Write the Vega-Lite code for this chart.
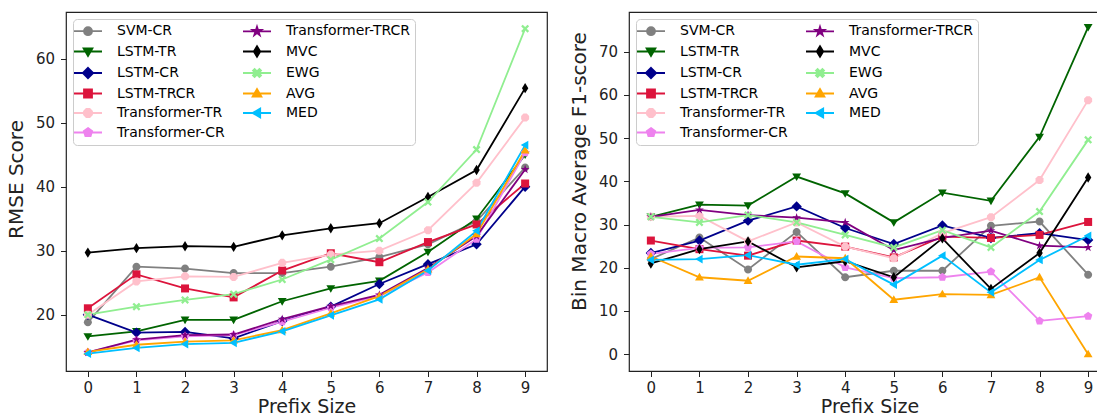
{
  "$schema": "https://vega.github.io/schema/vega-lite/v6.json",
  "padding": {"left": 5, "top": 11, "right": 0, "bottom": 0},
  "spacing": 20,
  "config": {
    "font": "DejaVu Sans",
    "view": {"stroke": "#222222", "strokeWidth": 1.2},
    "axis": {"domain": false, "grid": false, "tickSize": 5.5, "tickColor": "#222222", "tickWidth": 1, "labelFontSize": 15, "labelColor": "#222222", "titleFontSize": 20, "titleFontWeight": "normal", "titleColor": "#222222", "labelFont": "DejaVu Sans", "titleFont": "DejaVu Sans"},
    "legend": {"orient": "top-left", "offset": 7, "padding": 5, "columns": 2, "labelFontSize": 14, "labelFont": "DejaVu Sans", "labelColor": "#000000", "symbolSize": 64, "symbolOffset": 3, "labelOffset": 22, "rowPadding": 3.5, "columnPadding": 14, "fillColor": "rgba(255,255,255,0.8)", "strokeColor": "#cccccc", "cornerRadius": 4, "symbolStrokeWidth": 1.8, "labelLimit": 300}
  },
  "datasets": {
    "rmse": [
      {"prefix": 0, "SVM-CR": 18.8, "LSTM-TR": 16.6, "LSTM-CR": 20.0, "LSTM-TRCR": 21.0, "Transformer-TR": 20.0, "Transformer-CR": 14.1, "Transformer-TRCR": 14.1, "MVC": 29.7, "EWG": 20.0, "AVG": 14.2, "MED": 13.9},
      {"prefix": 1, "SVM-CR": 27.5, "LSTM-TR": 17.4, "LSTM-CR": 17.2, "LSTM-TRCR": 26.3, "Transformer-TR": 25.2, "Transformer-CR": 16.0, "Transformer-TRCR": 16.1, "MVC": 30.4, "EWG": 21.25, "AVG": 15.3, "MED": 14.8},
      {"prefix": 2, "SVM-CR": 27.2, "LSTM-TR": 19.2, "LSTM-CR": 17.3, "LSTM-TRCR": 24.1, "Transformer-TR": 26.0, "Transformer-CR": 16.6, "Transformer-TRCR": 16.8, "MVC": 30.7, "EWG": 22.3, "AVG": 15.8, "MED": 15.4},
      {"prefix": 3, "SVM-CR": 26.5, "LSTM-TR": 19.2, "LSTM-CR": 16.3, "LSTM-TRCR": 22.7, "Transformer-TR": 25.9, "Transformer-CR": 16.8, "Transformer-TRCR": 16.9, "MVC": 30.6, "EWG": 23.2, "AVG": 16.0, "MED": 15.6},
      {"prefix": 4, "SVM-CR": 26.5, "LSTM-TR": 22.1, "LSTM-CR": 19.0, "LSTM-TRCR": 26.9, "Transformer-TR": 28.1, "Transformer-CR": 18.9, "Transformer-TRCR": 19.3, "MVC": 32.4, "EWG": 25.5, "AVG": 17.6, "MED": 17.4},
      {"prefix": 5, "SVM-CR": 27.5, "LSTM-TR": 24.1, "LSTM-CR": 21.25, "LSTM-TRCR": 29.6, "Transformer-TR": 29.4, "Transformer-CR": 21.1, "Transformer-TRCR": 21.35, "MVC": 33.5, "EWG": 28.6, "AVG": 20.2, "MED": 19.9},
      {"prefix": 6, "SVM-CR": 29.0, "LSTM-TR": 25.3, "LSTM-CR": 24.8, "LSTM-TRCR": 28.2, "Transformer-TR": 30.0, "Transformer-CR": 22.9, "Transformer-TRCR": 23.1, "MVC": 34.3, "EWG": 31.9, "AVG": 22.9, "MED": 22.4},
      {"prefix": 7, "SVM-CR": 31.0, "LSTM-TR": 29.8, "LSTM-CR": 27.9, "LSTM-TRCR": 31.35, "Transformer-TR": 33.2, "Transformer-CR": 26.6, "Transformer-TRCR": 27.3, "MVC": 38.4, "EWG": 37.6, "AVG": 27.1, "MED": 26.9},
      {"prefix": 8, "SVM-CR": 34.6, "LSTM-TR": 35.0, "LSTM-CR": 31.0, "LSTM-TRCR": 34.1, "Transformer-TR": 40.6, "Transformer-CR": 31.8, "Transformer-TRCR": 32.3, "MVC": 42.6, "EWG": 45.8, "AVG": 32.6, "MED": 33.1},
      {"prefix": 9, "SVM-CR": 43.0, "LSTM-TR": 45.0, "LSTM-CR": 40.0, "LSTM-TRCR": 40.5, "Transformer-TR": 50.8, "Transformer-CR": 45.3, "Transformer-TRCR": 42.7, "MVC": 55.4, "EWG": 64.7, "AVG": 45.7, "MED": 46.5}
    ],
    "f1": [
      {"prefix": 0, "SVM-CR": 22.0, "LSTM-TR": 31.8, "LSTM-CR": 23.4, "LSTM-TRCR": 26.3, "Transformer-TR": 31.8, "Transformer-CR": 23.2, "Transformer-TRCR": 31.8, "MVC": 21.0, "EWG": 31.8, "AVG": 22.6, "MED": 21.8},
      {"prefix": 1, "SVM-CR": 27.0, "LSTM-TR": 34.6, "LSTM-CR": 26.3, "LSTM-TRCR": 24.3, "Transformer-TR": 32.0, "Transformer-CR": 24.6, "Transformer-TRCR": 33.4, "MVC": 24.3, "EWG": 30.5, "AVG": 17.8, "MED": 22.0},
      {"prefix": 2, "SVM-CR": 19.6, "LSTM-TR": 34.4, "LSTM-CR": 30.9, "LSTM-TRCR": 22.8, "Transformer-TR": 26.1, "Transformer-CR": 24.7, "Transformer-TRCR": 32.2, "MVC": 26.1, "EWG": 32.2, "AVG": 17.0, "MED": 22.9},
      {"prefix": 3, "SVM-CR": 28.3, "LSTM-TR": 41.1, "LSTM-CR": 34.2, "LSTM-TRCR": 26.3, "Transformer-TR": 30.5, "Transformer-CR": 26.1, "Transformer-TRCR": 31.6, "MVC": 20.1, "EWG": 30.5, "AVG": 22.6, "MED": 20.7},
      {"prefix": 4, "SVM-CR": 17.8, "LSTM-TR": 37.2, "LSTM-CR": 29.2, "LSTM-TRCR": 24.9, "Transformer-TR": 24.9, "Transformer-CR": 20.1, "Transformer-TRCR": 30.5, "MVC": 21.5, "EWG": 27.6, "AVG": 22.2, "MED": 22.0},
      {"prefix": 5, "SVM-CR": 19.3, "LSTM-TR": 30.5, "LSTM-CR": 25.5, "LSTM-TRCR": 22.4, "Transformer-TR": 22.2, "Transformer-CR": 17.6, "Transformer-TRCR": 24.1, "MVC": 17.8, "EWG": 24.7, "AVG": 12.6, "MED": 16.1},
      {"prefix": 6, "SVM-CR": 19.3, "LSTM-TR": 37.4, "LSTM-CR": 29.8, "LSTM-TRCR": 27.2, "Transformer-TR": 28.0, "Transformer-CR": 17.8, "Transformer-TRCR": 26.9, "MVC": 26.8, "EWG": 28.7, "AVG": 13.9, "MED": 22.8},
      {"prefix": 7, "SVM-CR": 29.7, "LSTM-TR": 35.5, "LSTM-CR": 26.9, "LSTM-TRCR": 26.9, "Transformer-TR": 31.7, "Transformer-CR": 19.1, "Transformer-TRCR": 28.6, "MVC": 15.1, "EWG": 24.7, "AVG": 13.7, "MED": 14.3},
      {"prefix": 8, "SVM-CR": 30.7, "LSTM-TR": 50.3, "LSTM-CR": 28.0, "LSTM-TRCR": 27.6, "Transformer-TR": 40.3, "Transformer-CR": 7.7, "Transformer-TRCR": 25.1, "MVC": 23.4, "EWG": 33.0, "AVG": 17.8, "MED": 21.8},
      {"prefix": 9, "SVM-CR": 18.4, "LSTM-TR": 75.7, "LSTM-CR": 26.4, "LSTM-TRCR": 30.6, "Transformer-TR": 58.8, "Transformer-CR": 8.8, "Transformer-TRCR": 24.7, "MVC": 40.9, "EWG": 49.6, "AVG": 0.0, "MED": 27.4}
    ]
  },
  "resolve": {"scale": {"color": "independent"}, "legend": {"color": "independent"}},
  "hconcat": [
    {
      "width": 481, "height": 359,
      "data": {"name": "rmse"},
      "transform": [{"fold": ["SVM-CR", "LSTM-TR", "LSTM-CR", "LSTM-TRCR", "Transformer-TR", "Transformer-CR", "Transformer-TRCR", "MVC", "EWG", "AVG", "MED"], "as": ["series", "value"]}],
      "encoding": {
        "x": {"field": "prefix", "type": "quantitative", "scale": {"domain": [-0.45, 9.45], "nice": false, "zero": false}, "axis": {"values": [0,1,2,3,4,5,6,7,8,9], "format": "d", "title": "Prefix Size", "labelPadding": 4, "titlePadding": 2, "titleFontSize": 19}},
        "y": {"field": "value", "type": "quantitative", "scale": {"domain": [11.2, 67.3], "nice": false, "zero": false}, "axis": {"values": [20,30,40,50,60], "title": "RMSE Score", "labelPadding": 6, "titlePadding": 9, "titleY": 167}},
        "color": {"field": "series", "type": "nominal",
          "scale": {"domain": ["SVM-CR", "LSTM-TR", "LSTM-CR", "LSTM-TRCR", "Transformer-TR", "Transformer-CR", "Transformer-TRCR", "MVC", "EWG", "AVG", "MED"],
                    "range": ["#808080", "#006400", "#00008B", "#DC143C", "#FFC0CB", "#EE82EE", "#800080", "#000000", "#90EE90", "#FFA500", "#00BFFF"]},
          "legend": {"title": null, "encode": {"symbols": {"update": {
            "shape": {"signal": "{'SVM-CR':'M-3.5,0H3.5M1,0A1,1,0,1,1,-1,0A1,1,0,1,1,1,0Z','LSTM-TR':'M-3.5,0H3.5M-1.1,-0.8L1.1,-0.8L0,1.1Z','LSTM-CR':'M-3.5,0H3.5M0,-1.3L1.3,0L0,1.3L-1.3,0Z','LSTM-TRCR':'M-3.5,0H3.5M-1,-1H1V1H-1Z','Transformer-TR':'M-3.5,0H3.5M-0.41,-1L0.41,-1L1,-0.41L1,0.41L0.41,1L-0.41,1L-1,0.41L-1,-0.41Z','Transformer-CR':'M-3.5,0H3.5M0,-1.1L1.05,-0.34L0.65,0.89L-0.65,0.89L-1.05,-0.34Z','Transformer-TRCR':'M-3.5,0H3.5M0,-1.15L0.26,-0.35L1.1,-0.35L0.42,0.13L0.67,0.93L0,0.44L-0.67,0.93L-0.42,0.13L-1.1,-0.35L-0.26,-0.35Z','MVC':'M-3.5,0H3.5M0,-1.3L0.8,0L0,1.3L-0.8,0Z','EWG':'M-3.5,0H3.5M-1,-0.6L-0.6,-1L0,-0.4L0.6,-1L1,-0.6L0.4,0L1,0.6L0.6,1L0,0.4L-0.6,1L-1,0.6L-0.4,0Z','AVG':'M-3.5,0H3.5M-1.1,0.8L1.1,0.8L0,-1.1Z','MED':'M-3.5,0H3.5M0.8,-1.1L0.8,1.1L-1.1,0Z'}[datum.label]"},
            "fill": {"signal": "{'SVM-CR':'#808080','LSTM-TR':'#006400','LSTM-CR':'#00008B','LSTM-TRCR':'#DC143C','Transformer-TR':'#FFC0CB','Transformer-CR':'#EE82EE','Transformer-TRCR':'#800080','MVC':'#000000','EWG':'#90EE90','AVG':'#FFA500','MED':'#00BFFF'}[datum.label]"},
            "stroke": {"signal": "{'SVM-CR':'#808080','LSTM-TR':'#006400','LSTM-CR':'#00008B','LSTM-TRCR':'#DC143C','Transformer-TR':'#FFC0CB','Transformer-CR':'#EE82EE','Transformer-TRCR':'#800080','MVC':'#000000','EWG':'#90EE90','AVG':'#FFA500','MED':'#00BFFF'}[datum.label]"},
            "strokeWidth": {"value": 1.8},
            "opacity": {"value": 1}
          }}}}
        }
      },
      "layer": [
        {"mark": {"type": "line", "strokeWidth": 1.8}},
        {"mark": {"type": "point", "filled": true, "size": 64, "opacity": 1},
         "encoding": {"shape": {"field": "series", "type": "nominal", "legend": null,
           "scale": {"domain": ["SVM-CR", "LSTM-TR", "LSTM-CR", "LSTM-TRCR", "Transformer-TR", "Transformer-CR", "Transformer-TRCR", "MVC", "EWG", "AVG", "MED"],
                     "range": ["M1,0A1,1,0,1,1,-1,0A1,1,0,1,1,1,0Z", "M-1.1,-0.8L1.1,-0.8L0,1.1Z", "M0,-1.3L1.3,0L0,1.3L-1.3,0Z", "M-1,-1H1V1H-1Z", "M-0.41,-1L0.41,-1L1,-0.41L1,0.41L0.41,1L-0.41,1L-1,0.41L-1,-0.41Z", "M0,-1.1L1.05,-0.34L0.65,0.89L-0.65,0.89L-1.05,-0.34Z", "M0,-1.15L0.26,-0.35L1.1,-0.35L0.42,0.13L0.67,0.93L0,0.44L-0.67,0.93L-0.42,0.13L-1.1,-0.35L-0.26,-0.35Z", "M0,-1.3L0.8,0L0,1.3L-0.8,0Z", "M-1,-0.6L-0.6,-1L0,-0.4L0.6,-1L1,-0.6L0.4,0L1,0.6L0.6,1L0,0.4L-0.6,1L-1,0.6L-0.4,0Z", "M-1.1,0.8L1.1,0.8L0,-1.1Z", "M0.8,-1.1L0.8,1.1L-1.1,0Z"]}}}}
      ]
    },
    {
      "width": 481, "height": 359,
      "data": {"name": "f1"},
      "transform": [{"fold": ["SVM-CR", "LSTM-TR", "LSTM-CR", "LSTM-TRCR", "Transformer-TR", "Transformer-CR", "Transformer-TRCR", "MVC", "EWG", "AVG", "MED"], "as": ["series", "value"]}],
      "encoding": {
        "x": {"field": "prefix", "type": "quantitative", "scale": {"domain": [-0.45, 9.45], "nice": false, "zero": false}, "axis": {"values": [0,1,2,3,4,5,6,7,8,9], "format": "d", "title": "Prefix Size", "labelPadding": 4, "titlePadding": 2, "titleFontSize": 19}},
        "y": {"field": "value", "type": "quantitative", "scale": {"domain": [-3.9, 79.2], "nice": false, "zero": false}, "axis": {"values": [0,10,20,30,40,50,60,70], "title": "Bin Macro Average F1-score", "labelPadding": 6, "titlePadding": 9, "titleY": 159}},
        "color": {"field": "series", "type": "nominal",
          "scale": {"domain": ["SVM-CR", "LSTM-TR", "LSTM-CR", "LSTM-TRCR", "Transformer-TR", "Transformer-CR", "Transformer-TRCR", "MVC", "EWG", "AVG", "MED"],
                    "range": ["#808080", "#006400", "#00008B", "#DC143C", "#FFC0CB", "#EE82EE", "#800080", "#000000", "#90EE90", "#FFA500", "#00BFFF"]},
          "legend": {"title": null, "encode": {"symbols": {"update": {
            "shape": {"signal": "{'SVM-CR':'M-3.5,0H3.5M1,0A1,1,0,1,1,-1,0A1,1,0,1,1,1,0Z','LSTM-TR':'M-3.5,0H3.5M-1.1,-0.8L1.1,-0.8L0,1.1Z','LSTM-CR':'M-3.5,0H3.5M0,-1.3L1.3,0L0,1.3L-1.3,0Z','LSTM-TRCR':'M-3.5,0H3.5M-1,-1H1V1H-1Z','Transformer-TR':'M-3.5,0H3.5M-0.41,-1L0.41,-1L1,-0.41L1,0.41L0.41,1L-0.41,1L-1,0.41L-1,-0.41Z','Transformer-CR':'M-3.5,0H3.5M0,-1.1L1.05,-0.34L0.65,0.89L-0.65,0.89L-1.05,-0.34Z','Transformer-TRCR':'M-3.5,0H3.5M0,-1.15L0.26,-0.35L1.1,-0.35L0.42,0.13L0.67,0.93L0,0.44L-0.67,0.93L-0.42,0.13L-1.1,-0.35L-0.26,-0.35Z','MVC':'M-3.5,0H3.5M0,-1.3L0.8,0L0,1.3L-0.8,0Z','EWG':'M-3.5,0H3.5M-1,-0.6L-0.6,-1L0,-0.4L0.6,-1L1,-0.6L0.4,0L1,0.6L0.6,1L0,0.4L-0.6,1L-1,0.6L-0.4,0Z','AVG':'M-3.5,0H3.5M-1.1,0.8L1.1,0.8L0,-1.1Z','MED':'M-3.5,0H3.5M0.8,-1.1L0.8,1.1L-1.1,0Z'}[datum.label]"},
            "fill": {"signal": "{'SVM-CR':'#808080','LSTM-TR':'#006400','LSTM-CR':'#00008B','LSTM-TRCR':'#DC143C','Transformer-TR':'#FFC0CB','Transformer-CR':'#EE82EE','Transformer-TRCR':'#800080','MVC':'#000000','EWG':'#90EE90','AVG':'#FFA500','MED':'#00BFFF'}[datum.label]"},
            "stroke": {"signal": "{'SVM-CR':'#808080','LSTM-TR':'#006400','LSTM-CR':'#00008B','LSTM-TRCR':'#DC143C','Transformer-TR':'#FFC0CB','Transformer-CR':'#EE82EE','Transformer-TRCR':'#800080','MVC':'#000000','EWG':'#90EE90','AVG':'#FFA500','MED':'#00BFFF'}[datum.label]"},
            "strokeWidth": {"value": 1.8},
            "opacity": {"value": 1}
          }}}}
        }
      },
      "layer": [
        {"mark": {"type": "line", "strokeWidth": 1.8}},
        {"mark": {"type": "point", "filled": true, "size": 64, "opacity": 1},
         "encoding": {"shape": {"field": "series", "type": "nominal", "legend": null,
           "scale": {"domain": ["SVM-CR", "LSTM-TR", "LSTM-CR", "LSTM-TRCR", "Transformer-TR", "Transformer-CR", "Transformer-TRCR", "MVC", "EWG", "AVG", "MED"],
                     "range": ["M1,0A1,1,0,1,1,-1,0A1,1,0,1,1,1,0Z", "M-1.1,-0.8L1.1,-0.8L0,1.1Z", "M0,-1.3L1.3,0L0,1.3L-1.3,0Z", "M-1,-1H1V1H-1Z", "M-0.41,-1L0.41,-1L1,-0.41L1,0.41L0.41,1L-0.41,1L-1,0.41L-1,-0.41Z", "M0,-1.1L1.05,-0.34L0.65,0.89L-0.65,0.89L-1.05,-0.34Z", "M0,-1.15L0.26,-0.35L1.1,-0.35L0.42,0.13L0.67,0.93L0,0.44L-0.67,0.93L-0.42,0.13L-1.1,-0.35L-0.26,-0.35Z", "M0,-1.3L0.8,0L0,1.3L-0.8,0Z", "M-1,-0.6L-0.6,-1L0,-0.4L0.6,-1L1,-0.6L0.4,0L1,0.6L0.6,1L0,0.4L-0.6,1L-1,0.6L-0.4,0Z", "M-1.1,0.8L1.1,0.8L0,-1.1Z", "M0.8,-1.1L0.8,1.1L-1.1,0Z"]}}}}
      ]
    }
  ]
}
